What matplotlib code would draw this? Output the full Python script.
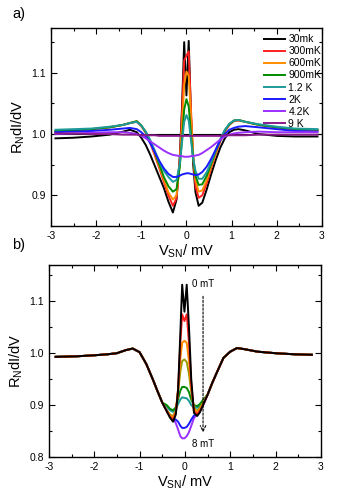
import numpy as np
import matplotlib.pyplot as plt

plt.rcParams['font.family'] = ['Liberation Sans', 'DejaVu Sans']
plt.rcParams['mathtext.fontset'] = 'custom'
plt.rcParams['mathtext.rm'] = 'Liberation Sans'
plt.rcParams['mathtext.it'] = 'Liberation Sans'
plt.rcParams['axes.unicode_minus'] = False

# ---- panel a: temperature dependence ----
xa = [-2.9, -2.5, -2.1, -1.7, -1.4, -1.25, -1.1, -1.0, -0.9, -0.8, -0.7, -0.6,
      -0.5, -0.4, -0.3, -0.22, -0.15, -0.1, -0.05, 0.0, 0.05, 0.1, 0.15, 0.2,
      0.27, 0.35, 0.45, 0.55, 0.65, 0.75, 0.85, 0.95, 1.05, 1.15, 1.3, 1.6,
      2.0, 2.4, 2.9]

t_30mk = [0.993, 0.994, 0.996, 0.999, 1.004, 1.007, 1.003, 0.994, 0.982, 0.966,
          0.948, 0.930, 0.912, 0.890, 0.872, 0.893, 0.960, 1.040, 1.150, 1.063,
          1.152, 1.030, 0.950, 0.905, 0.883, 0.888, 0.910, 0.935, 0.958, 0.978,
          0.993, 1.003, 1.007, 1.008, 1.006, 1.000, 0.997, 0.996, 0.996]
t_300mk = [1.004, 1.006, 1.008, 1.011, 1.015, 1.018, 1.020, 1.013, 1.002, 0.985,
           0.965, 0.944, 0.922, 0.900, 0.883, 0.895, 0.955, 1.030, 1.120, 1.128,
           1.135, 1.040, 0.960, 0.915, 0.896, 0.900, 0.920, 0.945, 0.968, 0.988,
           1.004, 1.015, 1.021, 1.022, 1.020, 1.015, 1.011, 1.008, 1.006]
t_600mk = [1.004, 1.006, 1.008, 1.011, 1.015, 1.018, 1.021, 1.014, 1.003, 0.987,
           0.968, 0.947, 0.926, 0.905, 0.893, 0.900, 0.950, 1.010, 1.080, 1.102,
           1.095, 1.030, 0.965, 0.925, 0.906, 0.908, 0.925, 0.948, 0.970, 0.990,
           1.006, 1.016, 1.022, 1.023, 1.020, 1.015, 1.011, 1.008, 1.006]
t_900mk = [1.005, 1.006, 1.008, 1.011, 1.015, 1.018, 1.021, 1.014, 1.003, 0.988,
           0.970, 0.950, 0.930, 0.915, 0.906, 0.910, 0.945, 0.990, 1.040, 1.057,
           1.045, 1.000, 0.960, 0.932, 0.917, 0.918, 0.932, 0.952, 0.972, 0.991,
           1.006, 1.016, 1.022, 1.023, 1.020, 1.015, 1.011, 1.008, 1.007]
t_1p2k = [1.007, 1.008, 1.009, 1.012, 1.015, 1.018, 1.020, 1.014, 1.004, 0.990,
          0.973, 0.955, 0.940, 0.930, 0.922, 0.925, 0.950, 0.985, 1.020, 1.031,
          1.022, 0.990, 0.960, 0.940, 0.927, 0.927, 0.938, 0.955, 0.974, 0.992,
          1.007, 1.017, 1.022, 1.023, 1.020, 1.016, 1.012, 1.009, 1.008]
t_2k = [1.003, 1.004, 1.005, 1.007, 1.009, 1.010, 1.008, 1.003, 0.996, 0.985,
        0.970, 0.956, 0.944, 0.935, 0.930, 0.930, 0.932, 0.934, 0.935, 0.936,
        0.936, 0.935, 0.934, 0.933, 0.934, 0.938, 0.947, 0.960, 0.975, 0.990,
        1.000, 1.007, 1.010, 1.012, 1.013, 1.011, 1.008, 1.005, 1.004]
t_4p2k = [1.000, 1.001, 1.002, 1.003, 1.003, 1.002, 1.000, 0.997, 0.993, 0.988,
          0.983, 0.978, 0.973, 0.969, 0.966, 0.965, 0.964, 0.964, 0.963, 0.963,
          0.963, 0.964, 0.964, 0.965, 0.966, 0.969, 0.974, 0.979, 0.985, 0.991,
          0.996, 0.999, 1.001, 1.002, 1.003, 1.004, 1.003, 1.003, 1.003]
t_9k = [1.001, 1.001, 1.000, 1.000, 0.999, 0.999, 0.999, 0.998, 0.998, 0.998,
        0.998, 0.997, 0.997, 0.997, 0.997, 0.997, 0.997, 0.997, 0.997, 0.997,
        0.997, 0.997, 0.997, 0.997, 0.997, 0.997, 0.997, 0.997, 0.997, 0.997,
        0.998, 0.998, 0.998, 0.998, 0.998, 0.999, 0.999, 0.999, 0.999]

temp_curves = [t_30mk, t_300mk, t_600mk, t_900mk, t_1p2k, t_2k, t_4p2k, t_9k]
temp_labels = ['30mk', '300mK', '600mK', '900mK', '1.2 K', '2K', '4.2K', '9 K']
temp_colors = ['black', '#ff2020', '#ff8c00', '#008a00', '#1f9a9a', '#1a1aff',
               '#9b30ff', '#8b1a8b']

# ---- panel b: field dependence (0 .. 8 mT) ----
b_left_x = [-2.85, -2.4, -2.0, -1.7, -1.5, -1.3, -1.15, -1.0, -0.85, -0.7, -0.6, -0.5]
b_left_y = [0.993, 0.994, 0.996, 0.998, 1.000, 1.006, 1.009, 1.002, 0.979, 0.948,
            0.926, 0.905]
b_right_x = [0.5, 0.6, 0.7, 0.85, 1.0, 1.15, 1.3, 1.6, 2.0, 2.4, 2.8]
b_right_y = [0.920, 0.942, 0.962, 0.991, 1.003, 1.010, 1.008, 1.003, 1.000, 0.998, 0.997]
b_mid_x = [-0.4, -0.33, -0.26, -0.2, -0.15, -0.1, -0.06, -0.01, 0.04, 0.09, 0.14,
           0.2, 0.27, 0.33, 0.4]

b_0mt = [0.888, 0.876, 0.868, 0.882, 0.930, 1.040, 1.132, 1.080, 1.132, 1.050,
         0.950, 0.885, 0.879, 0.886, 0.900]
b_1 = [0.888, 0.878, 0.872, 0.885, 0.930, 1.020, 1.075, 1.062, 1.075, 1.020, 0.940,
       0.888, 0.882, 0.889, 0.900]
b_2 = [0.889, 0.880, 0.876, 0.887, 0.930, 0.990, 1.020, 1.024, 1.020, 0.985, 0.935,
       0.892, 0.886, 0.892, 0.902]
b_3 = [0.890, 0.882, 0.879, 0.889, 0.925, 0.965, 0.985, 0.988, 0.983, 0.960, 0.925,
       0.894, 0.889, 0.895, 0.905]
b_4 = [0.900, 0.893, 0.890, 0.896, 0.912, 0.928, 0.935, 0.935, 0.933, 0.925, 0.910,
       0.900, 0.898, 0.902, 0.910]
b_5 = [0.898, 0.890, 0.887, 0.892, 0.902, 0.911, 0.915, 0.914, 0.913, 0.908, 0.900,
       0.895, 0.895, 0.898, 0.908]
b_6 = [0.890, 0.880, 0.874, 0.872, 0.868, 0.860, 0.856, 0.856, 0.858, 0.864, 0.872,
       0.880, 0.882, 0.890, 0.900]
b_8mt = [0.890, 0.880, 0.875, 0.865, 0.853, 0.840, 0.836, 0.836, 0.840, 0.848, 0.860,
         0.875, 0.882, 0.890, 0.900]

field_curves = [b_8mt, b_6, b_5, b_4, b_3, b_2, b_1, b_0mt]
field_colors = ['#9b30ff', '#1a1aff', '#1f9a9a', '#008a00', '#9a9a00', '#ff8c00',
                '#ff2020', 'black']


def style_axes(ax):
    ax.set_xlim(-3, 3)
    ax.set_xticks([-3, -2, -1, 0, 1, 2, 3])
    ax.set_xticks(np.arange(-2.5, 3, 1.0), minor=True)
    ax.tick_params(which='both', direction='in', top=True, right=True,
                   labelsize=7.5, width=0.8)
    ax.tick_params(which='major', length=4)
    ax.tick_params(which='minor', length=2)
    for s in ax.spines.values():
        s.set_linewidth(1.0)
    ax.set_xlabel('V$_{SN}$/ mV', fontsize=10.5, labelpad=1)
    ax.set_ylabel('R$_N$dI/dV', fontsize=10.5, labelpad=3)


fig = plt.figure(figsize=(3.44, 5.0), dpi=100)

ax1 = fig.add_axes([0.148, 0.548, 0.788, 0.396])
ax1.axhline(1.0, color='black', lw=0.8)
for y, lab, c in zip(temp_curves, temp_labels, temp_colors):
    ax1.plot(xa, y, color=c, lw=1.4, label=lab)
style_axes(ax1)
ax1.set_ylim(0.85, 1.173)
ax1.set_yticks([0.9, 1.0, 1.1])
ax1.set_yticks([0.85, 0.95, 1.05, 1.15], minor=True)
ax1.legend(loc='upper right', bbox_to_anchor=(1.02, 1.0), frameon=False,
           fontsize=7.5, handlelength=2.0, handletextpad=0.3,
           labelspacing=0.2, borderaxespad=0.2)

ax2 = fig.add_axes([0.142, 0.086, 0.791, 0.384])
for y, c in zip(field_curves, field_colors):
    ax2.plot(b_left_x + b_mid_x + b_right_x, b_left_y + y + b_right_y,
             color=c, lw=1.4)
style_axes(ax2)
ax2.set_ylim(0.8, 1.17)
ax2.set_yticks([0.8, 0.9, 1.0, 1.1])
ax2.set_yticks([0.85, 0.95, 1.05, 1.15], minor=True)
ax2.annotate('', xy=(0.4, 0.842), xytext=(0.4, 1.115),
             arrowprops=dict(arrowstyle='->', ls=(0, (2, 1.5)), lw=0.8,
                             color='black'))
ax2.text(0.15, 1.133, '0 mT', fontsize=7, va='center')
ax2.text(0.15, 0.826, '8 mT', fontsize=7, va='center')

fig.text(0.035, 0.972, 'a)', fontsize=10.5, va='center')
fig.text(0.035, 0.51, 'b)', fontsize=10.5, va='center')

fig.savefig('out.png', dpi=100)
